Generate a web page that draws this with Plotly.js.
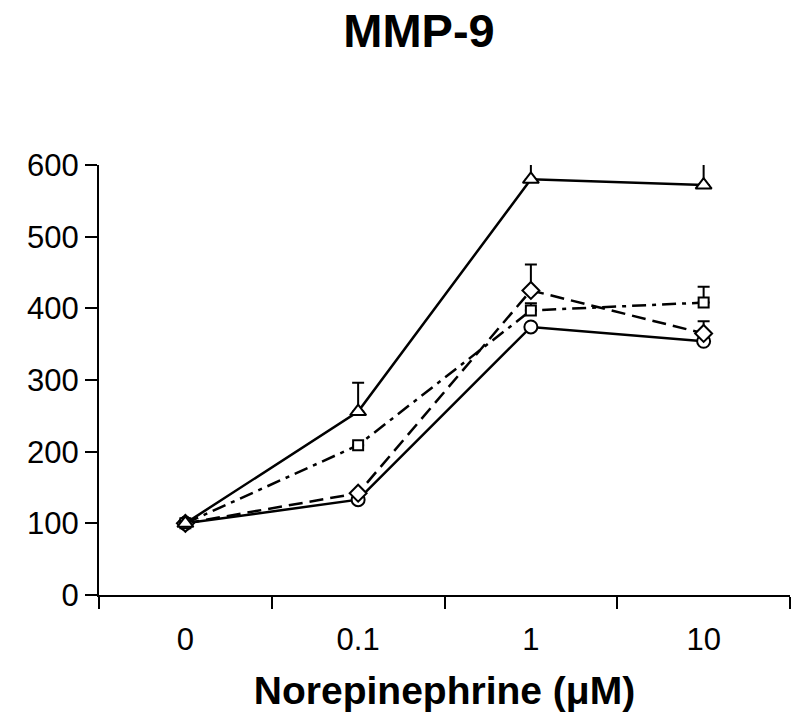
<!DOCTYPE html>
<html>
<head>
<meta charset="utf-8">
<script src="https://cdn.plot.ly/plotly-3.0.1.min.js"></script>
<style>html,body{margin:0;padding:0;background:#fff;}#chart{width:792px;height:717px;}</style>
</head>
<body>
<div id="chart"></div>
<script>
const categories = ['0', '0.1', '1', '10'];
const triangleVals = [100, 256, 580, 572];
const triangleErr = [0, 40, 28, 35];
const squareVals = [100, 209, 397, 408];
const squareErr = [0, 0, 10, 22];
const diamondVals = [100, 142, 425, 365];
const diamondErr = [0, 0, 36, 17];
const circleVals = [100, 133, 374, 354];
const circleErr = [0, 0, 0, 0];
const yTicks = [0, 100, 200, 300, 400, 500, 600];

function series(vals, err, symbol, size, dash) {
  return {
    type: 'scatter', mode: 'lines+markers', x: categories, y: vals,
    line: {color: '#000', width: 2.5, dash: dash},
    marker: {symbol: symbol, size: size, color: '#fff', line: {color: '#000', width: 2}},
    error_y: {type: 'data', symmetric: false, array: err, arrayminus: [0,0,0,0], color: '#000', thickness: 2, width: 6},
    showlegend: false, hoverinfo: 'skip'
  };
}

const data = [
  series(circleVals, circleErr, 'circle', 13, 'solid'),
  series(diamondVals, diamondErr, 'diamond', 13, '14px,7px'),
  series(squareVals, squareErr, 'square', 10, '14px,6px,4px,6px'),
  series(triangleVals, triangleErr, 'triangle-up', 14, 'solid')
];

const layout = {
  width: 792, height: 717,
  margin: {l: 99, r: 2, t: 165, b: 122},
  paper_bgcolor: '#fff', plot_bgcolor: '#fff',
  font: {family: 'Liberation Sans, Arial, sans-serif', color: '#000'},
  title: {text: '<b>MMP-9</b>', font: {size: 47, family: 'Liberation Sans, Arial, sans-serif', color: '#000'},
          x: 0.529, xanchor: 'center', y: 0.958, yanchor: 'middle'},
  xaxis: {
    type: 'category', range: [-0.5, 3.5], tickson: 'boundaries',
    showline: true, linecolor: '#000', linewidth: 2, ticks: 'outside', ticklen: 12, tickwidth: 2, tickcolor: '#000',
    showgrid: false, zeroline: false, tickfont: {size: 31}, ticklabelstandoff: 16,
    title: {text: '<b>Norepinephrine (μM)</b>', font: {size: 39}, standoff: 20}
  },
  yaxis: {
    range: [0, 600], tickmode: 'array', tickvals: yTicks, ticktext: yTicks.map(String),
    showline: true, linecolor: '#000', linewidth: 2, ticks: 'outside', ticklen: 12, tickwidth: 2, tickcolor: '#000',
    showgrid: false, zeroline: false, tickfont: {size: 31}
  }
};

Plotly.newPlot('chart', data, layout, {displayModeBar: false, staticPlot: true});
</script>
</body>
</html>
